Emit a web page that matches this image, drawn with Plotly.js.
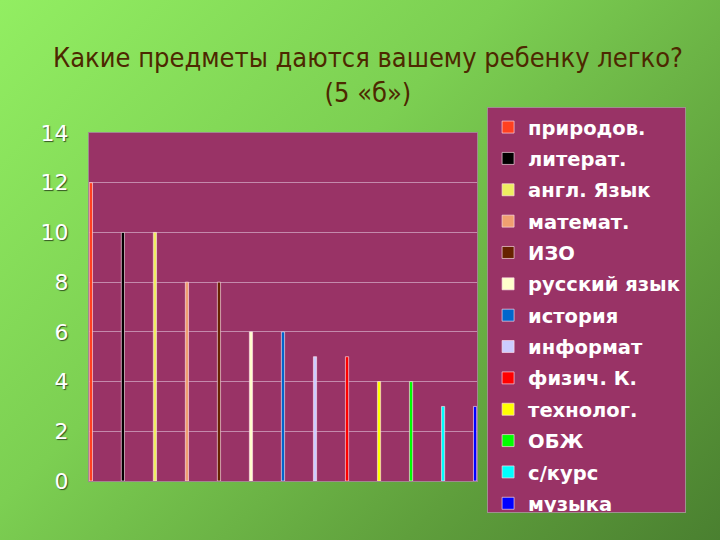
<!DOCTYPE html>
<html><head><meta charset="utf-8">
<script src="https://cdn.plot.ly/plotly-3.0.1.min.js"></script>
<style>
html,body{margin:0;padding:0;}
#chart{width:720px;height:540px;background:linear-gradient(135deg,#92ee62 0%,#7ccf52 40%,#5f9f3c 75%,#4a8030 100%);}
</style></head>
<body><div id="chart"></div>
<script>
const subjects = ["природов.","литерат.","англ. Язык","математ.","ИЗО","русский язык","история","информат","физич. К.","технолог.","ОБЖ","с/курс","музыка"];
const counts = [12,10,10,8,8,6,6,5,5,4,4,3,3];
const colors = ["#ff4020","#000000","#eeee60","#f0a070","#662200","#ffffcc","#0066cc","#ccccff","#ff0000","#ffff00","#00ff00","#00ffff","#0000ff"];
const yTicks = [0,2,4,6,8,10,12,14];

const traces = subjects.map((s,i)=>({
  type:'bar', name:s, x:[i], y:[counts[i]], width:0.1,
  marker:{color:colors[i], line:{color:'rgba(255,225,235,0.65)', width:1}},
  legendgroup:'g'+i, hoverinfo:'name+y'
}));

const layout = {
  width:720, height:540,
  paper_bgcolor:'rgba(0,0,0,0)', plot_bgcolor:'#993366',
  margin:{l:89, r:243, t:133, b:59},
  barmode:'overlay',
  showlegend:true,
  title:{text:'Какие предметы даются вашему ребенку легко?<br>(5 «б»)',
    font:{family:'DejaVu Sans Condensed, sans-serif', size:27, color:'#4d2800'},
    x:0.511, xanchor:'center', xref:'container', y:0.876, yanchor:'top', yref:'container'},
  xaxis:{range:[-0.06,12.06], showticklabels:false, showgrid:false, zeroline:false,
    showline:true, linecolor:'#a08890', linewidth:1, mirror:true, fixedrange:true},
  yaxis:{range:[0,14], tickvals:yTicks, ticktext:yTicks.map(String),
    showgrid:true, gridcolor:'#c48aac', gridwidth:1, zeroline:false,
    showline:true, linecolor:'#a08890', linewidth:1, mirror:true,
    ticklabelstandoff:15,
    tickfont:{family:'DejaVu Sans, Verdana, sans-serif', size:22, color:'#ffffff', shadow:'1px 1px 1px #335522'}},
  legend:{x:1.026, xanchor:'left', xref:'paper', y:1.075, yanchor:'top', yref:'paper',
    bgcolor:'#993366', bordercolor:'#a09090', borderwidth:1, maxheight:406,
    font:{family:'DejaVu Sans, Verdana, sans-serif', size:19.5, color:'#ffffff', weight:'bold'},
    tracegroupgap:3, itemwidth:30, traceorder:'grouped'}
};
Plotly.newPlot('chart', traces, layout, {displayModeBar:false, staticPlot:true});
</script></body></html>
